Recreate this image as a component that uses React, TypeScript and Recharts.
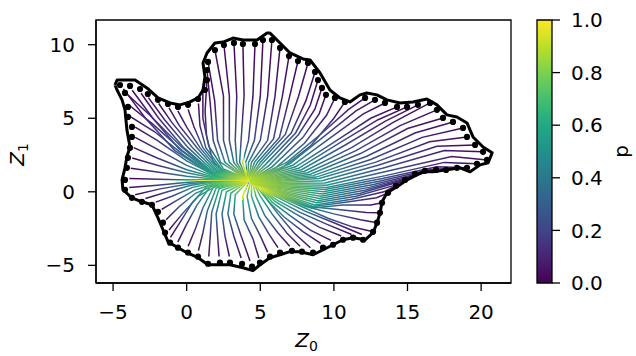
import React from 'react';
import { ScatterChart, Scatter, XAxis, YAxis, ReferenceArea } from 'recharts';

type Pt = [number, number];
type SPt = [number, number, number]; // x, y, p

const X_DOMAIN: [number, number] = [-6.16, 22.03];
const Y_DOMAIN: [number, number] = [-6.2, 11.68];
const X_TICKS = [-5, 0, 5, 10, 15, 20];
const Y_TICKS = [-5, 0, 5, 10];
const P_TICKS = [0, 0.2, 0.4, 0.6, 0.8, 1.0];

// outline of the region
const BOUNDARY: Pt[] = [
  [-4.87, 7.26], [-4.73, 7.6], [-3.51, 7.6], [-2.7, 7.06], [-1.95, 6.38], [-1.13, 6.04], [-0.45, 5.91],
  [0.22, 6.11], [0.77, 6.38], [1.11, 6.92], [1.24, 7.81], [1.11, 8.76], [1.38, 9.44], [1.92, 10.12],
  [2.47, 10.18], [3.15, 10.45], [3.82, 10.32], [4.78, 10.32], [5.46, 10.79], [5.66, 10.79], [6.34, 10.12],
  [7.02, 9.44], [7.9, 9.03], [8.38, 8.96], [9.06, 8.08], [9.73, 6.92], [10.41, 6.38], [11.09, 6.11],
  [11.77, 6.59], [12.24, 6.72], [12.92, 6.59], [13.6, 6.25], [14.49, 6.04], [15.37, 6.11], [16.32, 6.31],
  [17.0, 5.91], [17.68, 5.23], [18.36, 5.09], [19.04, 4.68], [19.45, 3.73], [20.13, 3.05], [20.75, 2.65],
  [20.47, 1.97], [19.93, 1.83], [19.25, 1.36], [18.57, 1.63], [17.68, 1.49], [16.73, 1.36], [16.05, 1.36],
  [15.64, 1.15], [14.97, 0.81], [14.29, 0.34], [13.61, -0.07], [13.27, -0.68], [13.14, -1.43], [12.93, -2.1],
  [12.66, -2.78], [12.12, -3.26], [11.3, -3.12], [10.62, -3.26], [9.94, -3.6], [9.27, -3.94], [8.58, -4.28],
  [7.7, -4.07], [7.02, -4.07], [6.34, -4.28], [5.66, -4.48], [4.98, -4.96], [4.5, -5.36], [3.82, -5.16],
  [2.94, -4.96], [2.26, -4.96], [1.45, -4.96], [0.77, -4.48], [0.02, -4.14], [-0.59, -3.8], [-1.27, -3.39],
  [-1.61, -2.58], [-1.95, -1.77], [-2.36, -0.88], [-3.04, -0.68], [-3.72, -0.41], [-4.33, 0.14], [-4.39, 0.81],
  [-4.19, 1.63], [-4.06, 2.38], [-3.85, 3.05], [-4.06, 4.21], [-4.19, 5.57], [-4.39, 6.25], [-4.73, 6.92],
  [-4.87, 7.26],
];

// seed points along the outline
const SEEDS: Pt[] = [
  [-4.53, 7.26], [-3.85, 7.2], [-3.17, 6.99], [-2.64, 6.65], [-1.95, 6.25], [-1.27, 5.97], [-0.59, 5.77],
  [0.09, 5.91], [0.77, 6.31], [1.24, 6.92], [1.38, 7.6], [1.38, 8.28], [1.45, 8.83], [1.92, 9.64],
  [2.53, 9.98], [3.21, 10.12], [3.82, 10.05], [4.64, 10.05], [5.18, 10.32], [5.79, 10.32], [6.34, 9.78],
  [6.95, 9.23], [7.56, 8.89], [8.24, 8.76], [8.72, 8.15], [8.92, 7.6], [9.19, 7.06], [9.46, 6.59],
  [10.07, 6.38], [10.75, 6.11], [12.12, 6.38], [12.79, 6.25], [13.47, 6.04], [14.29, 5.77], [14.97, 5.77],
  [15.71, 5.91], [16.53, 6.04], [17.0, 5.57], [17.41, 5.02], [18.09, 4.75], [18.77, 4.34], [19.04, 3.73],
  [19.59, 3.19], [20.13, 2.72], [20.4, 2.17], [19.72, 1.9], [19.04, 1.63], [18.36, 1.63], [17.62, 1.49],
  [16.94, 1.49], [16.18, 1.43], [15.51, 1.22], [14.83, 0.81], [14.22, 0.41], [13.68, -0.07], [13.27, -0.75],
  [13.13, -1.43], [12.93, -2.1], [12.66, -2.72], [11.98, -3.26], [11.3, -3.12], [10.62, -3.26], [9.94, -3.6],
  [9.26, -3.8], [8.58, -4.14], [7.83, -4.07], [7.15, -4.01], [6.34, -4.14], [5.66, -4.41], [4.98, -4.82],
  [4.44, -5.09], [3.76, -4.89], [2.94, -4.82], [2.26, -4.82], [1.45, -4.89], [0.77, -4.41], [0.09, -4.14],
  [-0.59, -3.8], [-1.13, -3.46], [-1.47, -2.78], [-1.61, -2.1], [-1.95, -1.36], [-2.36, -0.88], [-3.04, -0.68],
  [-3.72, -0.41], [-4.19, 0.14], [-4.19, 0.81], [-4.06, 1.63], [-3.99, 2.31], [-3.85, 2.99], [-3.72, 3.73],
  [-3.72, 4.41], [-3.99, 5.09], [-3.99, 5.77], [-4.19, 6.72],
];

// streamlines: [x, y, p]
const TOP_LINES: SPt[][] = [
  [[1.38, 7.6, 0.02], [1.25, 5.5, 0.06], [1.35, 3.8, 0.18], [1.8, 2.0, 0.4], [3.0, 1.0, 0.7], [4.1, 0.85, 0.92]],
  [[1.38, 8.28, 0.02], [1.6, 6.0, 0.06], [1.8, 3.5, 0.22], [2.3, 2.0, 0.45], [4.1, 0.85, 0.9]],
  [[1.45, 8.83, 0.02], [1.9, 6.2, 0.06], [2.1, 3.5, 0.22], [2.6, 2.0, 0.45], [4.1, 0.85, 0.9]],
  [[1.92, 9.64, 0.02], [2.5, 6.5, 0.06], [2.5, 3.5, 0.22], [2.9, 2.0, 0.45], [4.1, 0.85, 0.9]],
  [[2.53, 9.98, 0.02], [2.9, 6.5, 0.06], [2.9, 3.5, 0.22], [3.2, 2.0, 0.45], [4.1, 0.85, 0.9]],
  [[3.21, 10.12, 0.02], [3.4, 6.5, 0.06], [3.3, 3.5, 0.22], [3.4, 2.0, 0.45], [4.1, 0.85, 0.9]],
  [[3.82, 10.05, 0.02], [3.9, 6.5, 0.06], [3.7, 3.5, 0.22], [3.6, 2.0, 0.45], [4.1, 0.85, 0.9]],
  [[4.64, 10.05, 0.02], [4.5, 6.5, 0.06], [4.2, 3.5, 0.22], [3.8, 2.0, 0.45], [4.1, 0.85, 0.9]],
  [[5.18, 10.32, 0.02], [5.0, 6.5, 0.06], [4.6, 3.5, 0.22], [4.0, 2.0, 0.45], [4.15, 0.85, 0.9]],
  [[5.79, 10.32, 0.02], [5.5, 6.5, 0.06], [5.0, 3.5, 0.22], [4.2, 2.0, 0.45], [4.15, 0.85, 0.9]],
  [[6.34, 9.78, 0.02], [6.0, 6.5, 0.06], [5.5, 3.5, 0.22], [4.4, 2.0, 0.45], [4.2, 0.85, 0.9]],
  [[6.95, 9.23, 0.02], [6.5, 6.5, 0.06], [5.9, 3.6, 0.22], [4.6, 2.0, 0.45], [4.2, 0.85, 0.9]],
  [[7.56, 8.89, 0.02], [7.0, 6.5, 0.06], [6.3, 3.7, 0.22], [4.8, 2.0, 0.45], [4.2, 0.85, 0.9]],
  [[8.24, 8.76, 0.02], [7.6, 6.5, 0.06], [6.7, 3.9, 0.22], [5.0, 2.0, 0.45], [4.25, 0.85, 0.9]],
  [[8.72, 8.15, 0.02], [8.1, 6.2, 0.06], [7.1, 4.0, 0.22], [5.2, 2.0, 0.45], [4.25, 0.85, 0.9]],
  [[8.92, 7.6, 0.02], [8.4, 5.9, 0.06], [7.4, 4.0, 0.22], [5.4, 1.9, 0.45], [4.3, 0.85, 0.9]],
  [[9.19, 7.06, 0.02], [8.7, 5.6, 0.06], [7.6, 3.9, 0.22], [5.6, 1.8, 0.45], [4.3, 0.85, 0.9]],
  [[9.46, 6.59, 0.02], [9.0, 5.3, 0.06], [7.9, 3.7, 0.22], [5.8, 1.7, 0.45], [4.3, 0.8, 0.9]],
];

const RIGHT_LINES: SPt[][] = [
  [[10.07, 6.38, 0.02], [9.5, 5.2, 0.08], [8.0, 3.3, 0.25], [6.0, 1.6, 0.48], [4.2, 0.8, 0.9]],
  [[10.75, 6.11, 0.02], [10.0, 5.0, 0.08], [8.4, 3.1, 0.25], [6.3, 1.5, 0.48], [4.2, 0.8, 0.9]],
  [[12.12, 6.38, 0.02], [11.0, 5.6, 0.08], [9.2, 4.0, 0.22], [6.8, 2.0, 0.48], [4.2, 0.78, 0.9]],
  [[12.79, 6.25, 0.02], [11.5, 5.5, 0.08], [9.5, 3.9, 0.22], [7.0, 1.9, 0.48], [4.2, 0.76, 0.9]],
  [[13.47, 6.04, 0.02], [12.0, 5.3, 0.08], [9.8, 3.7, 0.22], [7.2, 1.8, 0.48], [4.2, 0.75, 0.9]],
  [[14.29, 5.77, 0.02], [12.5, 5.0, 0.08], [10.2, 3.5, 0.22], [7.4, 1.7, 0.48], [4.2, 0.74, 0.9]],
  [[14.97, 5.77, 0.02], [13.0, 4.9, 0.08], [10.5, 3.4, 0.22], [7.6, 1.6, 0.48], [4.25, 0.72, 0.9]],
  [[15.71, 5.91, 0.02], [13.5, 4.8, 0.08], [10.8, 3.2, 0.22], [7.8, 1.5, 0.48], [4.25, 0.7, 0.9]],
  [[16.53, 6.04, 0.02], [14.0, 4.7, 0.08], [11.2, 3.0, 0.22], [8.0, 1.4, 0.48], [4.25, 0.68, 0.9]],
  [[17.0, 5.57, 0.02], [14.5, 4.5, 0.08], [11.5, 2.8, 0.22], [8.2, 1.3, 0.48], [4.3, 0.66, 0.9]],
  [[17.41, 5.02, 0.02], [15.0, 4.3, 0.08], [11.8, 2.6, 0.23], [8.4, 1.2, 0.5], [4.3, 0.64, 0.9]],
  [[18.09, 4.75, 0.02], [15.5, 4.0, 0.08], [12.2, 2.4, 0.23], [8.6, 1.1, 0.5], [4.3, 0.62, 0.9]],
  [[18.77, 4.34, 0.02], [16.0, 3.7, 0.08], [12.5, 2.2, 0.23], [8.8, 1.0, 0.5], [4.35, 0.6, 0.9]],
  [[19.04, 3.73, 0.02], [16.5, 3.4, 0.08], [12.8, 2.0, 0.24], [9.0, 0.9, 0.5], [4.35, 0.58, 0.9]],
  [[19.59, 3.19, 0.02], [17.0, 3.1, 0.08], [13.0, 1.8, 0.24], [9.2, 0.75, 0.5], [4.4, 0.56, 0.9]],
  [[20.13, 2.72, 0.02], [17.5, 2.8, 0.08], [13.3, 1.6, 0.24], [9.4, 0.6, 0.5], [4.4, 0.54, 0.9]],
  [[20.4, 2.17, 0.02], [18.0, 2.4, 0.08], [13.6, 1.4, 0.25], [9.5, 0.45, 0.52], [4.45, 0.52, 0.92]],
  [[19.72, 1.9, 0.02], [17.5, 2.0, 0.08], [13.5, 1.1, 0.26], [9.5, 0.3, 0.52], [4.5, 0.5, 0.92]],
  [[19.04, 1.63, 0.02], [17.0, 1.7, 0.08], [13.3, 0.9, 0.26], [9.4, 0.15, 0.52], [4.5, 0.48, 0.92]],
  [[18.36, 1.63, 0.02], [16.5, 1.5, 0.08], [13.0, 0.7, 0.26], [9.3, 0.0, 0.52], [4.55, 0.46, 0.92]],
  [[17.62, 1.49, 0.02], [16.0, 1.3, 0.08], [12.7, 0.5, 0.26], [9.2, -0.15, 0.52], [4.6, 0.44, 0.92]],
  [[16.94, 1.49, 0.02], [15.5, 1.1, 0.08], [12.4, 0.3, 0.26], [9.1, -0.3, 0.52], [4.65, 0.42, 0.92]],
  [[16.18, 1.43, 0.02], [15.0, 0.9, 0.08], [12.1, 0.1, 0.26], [9.0, -0.45, 0.52], [4.7, 0.4, 0.92]],
  [[15.51, 1.22, 0.02], [14.5, 0.7, 0.08], [11.8, -0.1, 0.26], [8.9, -0.6, 0.52], [4.75, 0.38, 0.92]],
  [[14.83, 0.81, 0.02], [14.0, 0.4, 0.08], [11.5, -0.3, 0.26], [8.8, -0.75, 0.52], [4.8, 0.36, 0.92]],
  [[14.22, 0.41, 0.02], [13.4, 0.0, 0.08], [11.2, -0.5, 0.26], [8.7, -0.9, 0.52], [4.85, 0.34, 0.92]],
  [[13.68, -0.07, 0.02], [12.9, -0.4, 0.08], [10.9, -0.7, 0.26], [8.6, -1.0, 0.52], [4.9, 0.32, 0.94]],
  [[13.27, -0.75, 0.02], [12.5, -0.9, 0.08], [10.6, -0.9, 0.26], [8.5, -1.1, 0.52], [4.95, 0.3, 0.94]],
  [[13.13, -1.43, 0.02], [12.2, -1.4, 0.08], [10.3, -1.2, 0.26], [8.3, -1.0, 0.52], [5.0, 0.28, 0.94]],
  [[12.93, -2.1, 0.02], [11.8, -1.9, 0.1], [10.0, -1.5, 0.28], [8.1, -1.0, 0.52], [5.0, 0.26, 0.94]],
  [[12.66, -2.72, 0.02], [11.3, -2.4, 0.1], [9.6, -1.8, 0.28], [7.8, -1.0, 0.52], [5.05, 0.24, 0.94]],
];

const BOTTOM_RIGHT_LINES: SPt[][] = [
  [[11.9, -2.9, 0.02], [10.0, -2.1, 0.15], [8.0, -1.3, 0.36], [6.4, -0.5, 0.62], [5.2, 0.1, 0.95]],
  [[11.2, -2.9, 0.02], [9.5, -2.2, 0.15], [7.7, -1.4, 0.36], [6.2, -0.6, 0.62], [5.15, 0.12, 0.95]],
  [[10.5, -3.0, 0.02], [9.0, -2.4, 0.15], [7.4, -1.5, 0.36], [6.0, -0.65, 0.62], [5.1, 0.15, 0.95]],
  [[9.8, -3.3, 0.02], [8.4, -2.6, 0.15], [7.0, -1.6, 0.36], [5.8, -0.7, 0.62], [5.05, 0.2, 0.95]],
  [[9.1, -3.5, 0.02], [7.9, -2.7, 0.15], [6.6, -1.7, 0.36], [5.6, -0.7, 0.62], [5.0, 0.25, 0.95]],
  [[8.4, -3.8, 0.02], [7.3, -2.8, 0.15], [6.2, -1.5, 0.36], [5.2, -0.2, 0.62], [4.7, 0.4, 0.95]],
  [[7.7, -3.7, 0.02], [6.8, -2.8, 0.15], [5.8, -1.5, 0.36], [5.0, -0.3, 0.62], [4.6, 0.45, 0.95]],
  [[7.0, -3.7, 0.02], [6.2, -2.8, 0.15], [5.3, -1.6, 0.36], [4.7, -0.3, 0.62], [4.5, 0.5, 0.95]],
  [[6.2, -3.8, 0.02], [5.6, -2.9, 0.15], [4.9, -1.7, 0.36], [4.4, -0.3, 0.62], [4.4, 0.55, 0.95]],
  [[5.5, -4.1, 0.02], [5.0, -3.0, 0.15], [4.4, -1.8, 0.36], [4.1, -0.3, 0.62], [4.3, 0.6, 0.95]],
  [[4.9, -4.5, 0.02], [4.5, -3.2, 0.15], [3.9, -1.9, 0.36], [3.8, -0.3, 0.62], [4.2, 0.65, 0.95]],
];

const BOTTOM_LINES: SPt[][] = [
  [[4.3, -4.7, 0.02], [3.7, -3.0, 0.13], [3.2, -1.5, 0.35], [3.3, -0.2, 0.62], [4.15, 0.7, 0.95]],
  [[3.7, -4.5, 0.02], [3.2, -3.0, 0.13], [2.8, -1.5, 0.35], [3.0, -0.1, 0.62], [4.1, 0.7, 0.95]],
  [[2.9, -4.4, 0.02], [2.6, -3.0, 0.13], [2.4, -1.5, 0.35], [2.7, 0.0, 0.62], [4.1, 0.72, 0.95]],
  [[2.2, -4.4, 0.02], [2.1, -3.0, 0.13], [2.0, -1.5, 0.35], [2.4, 0.1, 0.62], [4.05, 0.72, 0.95]],
  [[1.5, -4.4, 0.02], [1.6, -3.0, 0.13], [1.7, -1.4, 0.35], [2.2, 0.2, 0.62], [4.05, 0.75, 0.95]],
  [[0.8, -4.0, 0.02], [1.1, -2.8, 0.13], [1.4, -1.3, 0.35], [2.0, 0.25, 0.62], [4.0, 0.75, 0.95]],
  [[0.1, -3.7, 0.02], [0.6, -2.5, 0.13], [1.1, -1.1, 0.35], [1.8, 0.3, 0.62], [4.0, 0.75, 0.95]],
  [[-0.6, -3.4, 0.02], [0.0, -2.2, 0.13], [0.7, -0.9, 0.35], [1.6, 0.35, 0.62], [4.0, 0.78, 0.95]],
  [[-1.1, -3.1, 0.02], [-0.4, -2.0, 0.13], [0.4, -0.7, 0.35], [1.4, 0.4, 0.62], [4.0, 0.78, 0.95]],
];

const LEFT_BOTTOM_LINES: SPt[][] = [
  [[-1.2, -2.6, 0.02], [-0.3, -1.5, 0.22], [0.8, -0.3, 0.46], [2.2, 0.5, 0.72], [4.2, 0.78, 0.97]],
  [[-1.4, -1.9, 0.02], [-0.5, -1.0, 0.22], [0.6, -0.1, 0.46], [2.1, 0.55, 0.72], [4.2, 0.78, 0.97]],
  [[-1.7, -1.2, 0.02], [-0.7, -0.6, 0.22], [0.5, 0.1, 0.46], [2.0, 0.6, 0.72], [4.2, 0.8, 0.97]],
  [[-2.1, -0.7, 0.02], [-1.0, -0.3, 0.22], [0.4, 0.3, 0.46], [2.0, 0.65, 0.72], [4.2, 0.8, 0.97]],
  [[-2.8, -0.45, 0.02], [-1.3, 0.0, 0.2], [0.3, 0.45, 0.44], [2.0, 0.7, 0.72], [4.25, 0.8, 0.97]],
  [[-3.5, -0.2, 0.02], [-1.8, 0.2, 0.17], [0.2, 0.55, 0.42], [2.0, 0.72, 0.7], [4.25, 0.8, 0.97]],
  [[-3.9, 0.3, 0.02], [-2.0, 0.45, 0.15], [0.1, 0.65, 0.4], [2.0, 0.75, 0.68], [4.25, 0.82, 0.97]],
];

const LEFT_LINES: SPt[][] = [
  [[-3.9, 0.9, 0.02], [-2.0, 0.85, 0.15], [0.0, 0.8, 0.4], [2.0, 0.8, 0.68], [4.25, 0.82, 0.97]],
  [[-3.8, 1.6, 0.02], [-2.0, 1.35, 0.15], [0.0, 1.05, 0.4], [2.0, 0.85, 0.68], [4.25, 0.82, 0.97]],
  [[-3.7, 2.3, 0.02], [-2.0, 1.8, 0.15], [0.0, 1.3, 0.4], [2.0, 0.9, 0.68], [4.25, 0.84, 0.97]],
  [[-3.6, 3.0, 0.02], [-2.0, 2.3, 0.14], [0.0, 1.5, 0.38], [2.0, 0.95, 0.66], [4.25, 0.84, 0.96]],
  [[-3.5, 3.7, 0.02], [-2.0, 2.9, 0.13], [0.0, 1.8, 0.36], [2.0, 1.0, 0.64], [4.2, 0.85, 0.95]],
  [[-3.5, 4.4, 0.02], [-2.0, 3.5, 0.12], [0.0, 2.1, 0.34], [2.0, 1.05, 0.62], [4.2, 0.85, 0.95]],
  [[-3.8, 5.1, 0.02], [-2.2, 4.1, 0.11], [-0.2, 2.5, 0.32], [1.9, 1.1, 0.6], [4.2, 0.86, 0.95]],
  [[-3.8, 5.8, 0.02], [-2.3, 4.6, 0.1], [-0.3, 2.8, 0.3], [1.9, 1.15, 0.6], [4.2, 0.86, 0.95]],
  [[-4.0, 6.6, 0.02], [-2.5, 5.2, 0.1], [-0.4, 3.1, 0.28], [1.8, 1.2, 0.58], [4.2, 0.87, 0.94]],
];

const UPPER_LEFT_LINES: SPt[][] = [
  [[-4.3, 7.0, 0.02], [-2.8, 5.0, 0.1], [-0.8, 2.8, 0.28], [1.6, 1.25, 0.58], [4.2, 0.88, 0.94]],
  [[-3.7, 6.9, 0.02], [-2.3, 5.0, 0.1], [-0.5, 2.9, 0.28], [1.7, 1.3, 0.58], [4.2, 0.88, 0.94]],
  [[-3.1, 6.7, 0.02], [-1.9, 5.0, 0.1], [-0.2, 3.0, 0.28], [1.8, 1.3, 0.58], [4.2, 0.88, 0.94]],
  [[-2.6, 6.4, 0.02], [-1.5, 4.9, 0.1], [0.1, 3.0, 0.28], [1.9, 1.35, 0.58], [4.2, 0.88, 0.94]],
  [[-1.9, 6.0, 0.02], [-1.0, 4.7, 0.1], [0.4, 3.0, 0.28], [2.0, 1.4, 0.58], [4.15, 0.88, 0.94]],
  [[-1.2, 5.7, 0.02], [-0.5, 4.5, 0.1], [0.7, 3.0, 0.28], [2.1, 1.4, 0.58], [4.15, 0.88, 0.94]],
  [[-0.6, 5.5, 0.02], [0.0, 4.4, 0.1], [0.9, 3.0, 0.28], [2.2, 1.45, 0.58], [4.15, 0.88, 0.94]],
  [[0.1, 5.6, 0.02], [0.5, 4.4, 0.1], [1.1, 3.0, 0.28], [2.3, 1.5, 0.58], [4.15, 0.88, 0.94]],
  [[0.8, 6.0, 0.02], [0.9, 4.5, 0.1], [1.3, 3.0, 0.28], [2.4, 1.5, 0.58], [4.15, 0.88, 0.94]],
  [[1.1, 6.8, 0.02], [1.1, 5.0, 0.08], [1.5, 3.1, 0.26], [2.5, 1.55, 0.55], [4.15, 0.88, 0.92]],
];

const STREAMLINES: SPt[][] = [
  ...TOP_LINES, ...RIGHT_LINES, ...BOTTOM_RIGHT_LINES, ...BOTTOM_LINES,
  ...LEFT_BOTTOM_LINES, ...LEFT_LINES, ...UPPER_LEFT_LINES,
];

const VIRIDIS = ['#440154', '#482475', '#414487', '#355f8d', '#2a788e', '#21918c',
  '#22a884', '#44bf70', '#7ad151', '#bddf26', '#fde725'];

const FONT = '"DejaVu Sans", sans-serif';

function hexToRgb(h: string) {
  return [1, 3, 5].map((i) => parseInt(h.slice(i, i + 2), 16));
}

function viridis(p: number) {
  const t = Math.min(1, Math.max(0, p)) * (VIRIDIS.length - 1);
  const i = Math.min(VIRIDIS.length - 2, Math.floor(t));
  const f = t - i;
  const a = hexToRgb(VIRIDIS[i]);
  const b = hexToRgb(VIRIDIS[i + 1]);
  const c = a.map((v, k) => Math.round(v + (b[k] - v) * f));
  return `rgb(${c[0]},${c[1]},${c[2]})`;
}

// gradient along a streamline, in the line's own bounding box
function lineGradient(line: SPt[]) {
  const xs = line.map((d) => d[0]);
  const ys = line.map((d) => d[1]);
  const minX = Math.min(...xs);
  const maxX = Math.max(...xs);
  const minY = Math.min(...ys);
  const maxY = Math.max(...ys);
  const w = maxX - minX || 1;
  const h = maxY - minY || 1;
  const u = (d: SPt) => (d[0] - minX) / w;
  const v = (d: SPt) => (maxY - d[1]) / h;
  const a = line[0];
  const b = line[line.length - 1];
  const dx = u(b) - u(a);
  const dy = v(b) - v(a);
  const len2 = dx * dx + dy * dy || 1;
  let last = 0;
  const stops = line.map((d) => {
    let t = ((u(d) - u(a)) * dx + (v(d) - v(a)) * dy) / len2;
    t = Math.min(1, Math.max(last, t));
    last = t;
    return { offset: t, color: viridis(d[2]) };
  });
  return { x1: u(a), y1: v(a), x2: u(b), y2: v(b), stops };
}

const toXY = (d: number[]) => ({ x: d[0], y: d[1] });
const noShape = () => <g />;
const seedDot = (props: any) => <circle cx={props.cx} cy={props.cy} r={3.1} fill="#000" />;
const fmt = (v: number) => (v < 0 ? `\u2212${Math.abs(v)}` : `${v}`);

const XTitle = (props: any) => {
  const { x, y, width } = props.viewBox;
  return (
    <text x={x + width / 2 + 3} y={y + 64} textAnchor="middle" fontFamily={FONT} fontSize={20} fill="#000">
      <tspan fontStyle="italic">Z</tspan>
      <tspan fontSize={14} dy={4}>0</tspan>
    </text>
  );
};

const YTitle = (props: any) => {
  const { y, height } = props.viewBox;
  const cx = 24;
  const cy = y + height / 2 + 3;
  return (
    <text x={cx} y={cy} transform={`rotate(-90, ${cx}, ${cy})`} textAnchor="middle" fontFamily={FONT} fontSize={20} fill="#000">
      <tspan fontStyle="italic">Z</tspan>
      <tspan fontSize={14} dy={4}>1</tspan>
    </text>
  );
};

const PTitle = (props: any) => {
  const { y, height } = props.viewBox;
  const cx = 108;
  const cy = y + height / 2;
  return (
    <text x={cx} y={cy} transform={`rotate(-90, ${cx}, ${cy})`} textAnchor="middle" fontFamily={FONT} fontSize={20} fill="#000">
      p
    </text>
  );
};

const tickStyle = { fill: '#000', fontSize: 20, fontFamily: FONT };
const lineStyle = { stroke: '#000', strokeWidth: 1.3 };

export default function App() {
  const grads = STREAMLINES.map(lineGradient);
  return (
    <div style={{ position: 'absolute', left: 0, top: 0, width: 636, height: 356, background: '#fff' }}>
      <div style={{ position: 'absolute', left: 0, top: 0 }}>
        <ScatterChart width={520} height={356} margin={{ top: 20, right: 9, bottom: 0, left: 0 }}>
          <defs>
            {grads.map((g, i) => (
              <linearGradient key={i} id={`sl-${i}`} x1={g.x1} y1={g.y1} x2={g.x2} y2={g.y2}>
                {g.stops.map((s, k) => (
                  <stop key={k} offset={s.offset} stopColor={s.color} />
                ))}
              </linearGradient>
            ))}
          </defs>
          <XAxis
            type="number"
            dataKey="x"
            domain={X_DOMAIN}
            ticks={X_TICKS}
            allowDataOverflow
            height={73}
            tick={tickStyle}
            tickFormatter={fmt}
            tickSize={8}
            tickMargin={14}
            axisLine={lineStyle}
            tickLine={lineStyle}
            label={<XTitle />}
          />
          <YAxis
            type="number"
            dataKey="y"
            domain={Y_DOMAIN}
            ticks={Y_TICKS}
            allowDataOverflow
            width={96}
            tick={tickStyle}
            tickFormatter={fmt}
            tickSize={8}
            tickMargin={13}
            axisLine={lineStyle}
            tickLine={lineStyle}
            label={<YTitle />}
          />
          {STREAMLINES.map((line, i) => (
            <Scatter
              key={i}
              data={line.map(toXY)}
              line={{ stroke: `url(#sl-${i})`, strokeWidth: 1.5 }}
              shape={noShape}
              isAnimationActive={false}
            />
          ))}
          <Scatter
            data={BOUNDARY.map(toXY)}
            line={{ stroke: '#000', strokeWidth: 3, strokeLinejoin: 'round' }}
            shape={noShape}
            isAnimationActive={false}
          />
          <Scatter data={SEEDS.map(toXY)} fill="#000" shape={seedDot} isAnimationActive={false} />
          <ReferenceArea
            x1={X_DOMAIN[0]}
            x2={X_DOMAIN[1]}
            y1={Y_DOMAIN[0]}
            y2={Y_DOMAIN[1]}
            fill="none"
            stroke="#000"
            strokeWidth={1.3}
          />
        </ScatterChart>
      </div>
      <div style={{ position: 'absolute', left: 520, top: 0 }}>
        <ScatterChart width={116} height={356} margin={{ top: 20, right: 0, bottom: 73, left: 17 }}>
          <defs>
            <linearGradient id="cbar" x1={0} y1={1} x2={0} y2={0}>
              {VIRIDIS.map((c, i) => (
                <stop key={i} offset={i / (VIRIDIS.length - 1)} stopColor={c} />
              ))}
            </linearGradient>
          </defs>
          <XAxis type="number" dataKey="x" domain={[0, 1]} hide />
          <YAxis
            type="number"
            dataKey="y"
            orientation="right"
            domain={[0, 1]}
            ticks={P_TICKS}
            width={84}
            tick={tickStyle}
            tickFormatter={(v: number) => v.toFixed(1)}
            tickSize={8}
            tickMargin={11}
            axisLine={false}
            tickLine={lineStyle}
            label={<PTitle />}
          />
          <Scatter data={P_TICKS.map((p) => ({ x: 0.5, y: p }))} shape={noShape} isAnimationActive={false} />
          <ReferenceArea x1={0} x2={1} y1={0} y2={1} fill="url(#cbar)" fillOpacity={1} stroke="#000" strokeWidth={1.3} />
        </ScatterChart>
      </div>
    </div>
  );
}
